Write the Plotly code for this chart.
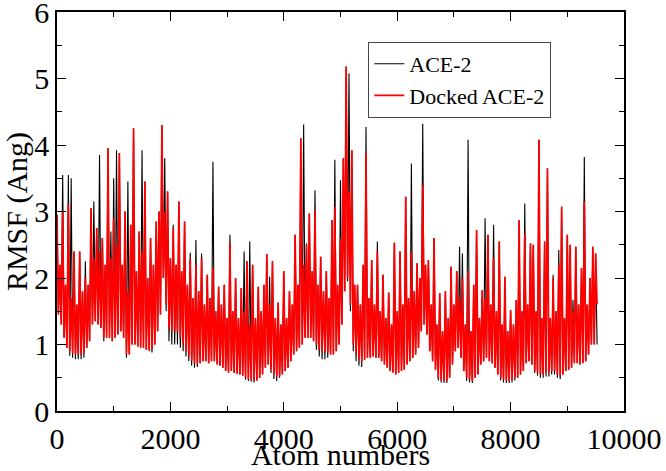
import plotly.graph_objects as go

# Atom numbers: local maxima read every 50 atoms (0 ... 9500),
# local minima read halfway between them (25 ... 9525)
atoms_top = list(range(0, 9550, 50))
atoms_low = list(range(25, 9575, 50))

# ACE-2 (black) — RMSF (Ang) local maxima
ace2_top = [
    2.95, 2.20, 3.55, 1.90, 3.55, 3.50, 2.40, 1.60, 2.40, 1.80,
    2.25, 1.90, 3.05, 3.15, 2.75, 3.85, 2.60, 2.20, 3.95, 2.70,
    3.50, 3.92, 3.88, 2.20, 3.00, 3.45, 2.80, 4.25, 2.10, 2.70,
    3.92, 3.45, 2.00, 2.60, 2.20, 2.85, 3.00, 4.30, 3.80, 3.30,
    2.30, 2.80, 2.20, 3.15, 2.10, 2.85, 1.90, 2.38, 1.70, 2.57,
    1.80, 2.37, 1.60, 2.05, 1.70, 3.75, 1.50, 1.87, 1.60, 1.90,
    1.40, 2.65, 1.50, 2.00, 1.40, 1.85, 2.40, 2.25, 2.55, 2.20,
    1.40, 1.87, 1.50, 1.90, 2.36, 2.02, 2.25, 1.40, 1.63, 1.30,
    2.10, 1.40, 1.80, 1.60, 2.65, 1.90, 4.10, 4.31, 2.52, 2.97,
    2.10, 3.32, 1.90, 2.32, 1.80, 2.10, 1.70, 2.87, 3.78, 1.90,
    3.47, 3.80, 5.18, 5.08, 3.92, 1.90, 1.90, 1.60, 2.20, 4.27,
    1.70, 2.27, 1.60, 2.55, 1.50, 2.05, 1.40, 1.78, 1.30, 2.53,
    1.50, 2.40, 1.60, 3.22, 1.70, 3.72, 1.80, 2.22, 2.00, 4.32,
    2.20, 2.27, 1.60, 2.60, 1.30, 1.77, 1.20, 1.80, 1.40, 2.17,
    1.60, 2.10, 2.47, 2.37, 1.30, 4.08, 1.20, 1.90, 2.72, 1.40,
    1.82, 2.90, 2.65, 1.60, 2.80, 1.50, 2.55, 1.30, 2.02, 1.20,
    1.52, 1.30, 1.67, 2.87, 1.50, 3.12, 1.60, 2.52, 2.50, 1.50,
    4.08, 1.40, 2.55, 3.65, 1.40, 2.05, 1.50, 2.42, 3.07, 1.40,
    2.65, 2.50, 1.67, 2.47, 1.60, 2.15, 3.82, 1.60, 2.00, 2.47,
    2.37,
]

# ACE-2 (black) — RMSF (Ang) local minima
ace2_low = [
    1.45, 1.30, 1.10, 0.95, 0.83, 0.80, 0.78, 0.78, 0.78, 0.80,
    0.95, 1.05, 1.30, 1.35, 1.30, 1.25, 1.05, 1.10, 1.10, 1.05,
    1.10, 1.15, 1.20, 1.10, 0.80, 0.85, 1.00, 1.00, 0.97, 0.95,
    0.95, 0.92, 0.90, 0.88, 1.00, 1.20, 1.45, 2.00, 1.50, 1.05,
    1.00, 1.00, 1.00, 0.95, 0.90, 0.82, 0.75, 0.68, 0.65, 0.66,
    0.72, 0.75, 0.75, 0.72, 0.75, 0.75, 0.70, 0.68, 0.65, 0.60,
    0.58, 0.60, 0.57, 0.56, 0.55, 0.53, 0.47, 0.45, 0.44, 0.43,
    0.46, 0.50, 0.55, 0.65, 0.70, 0.57, 0.48, 0.45, 0.50, 0.55,
    0.60, 0.65, 0.75, 0.85, 0.90, 0.95, 1.00, 1.10, 1.10, 1.10,
    1.05, 0.92, 0.82, 0.78, 0.78, 0.80, 0.85, 0.85, 0.90, 1.00,
    1.30, 1.80, 1.95, 1.50, 0.90, 0.75, 0.68, 0.66, 0.77, 0.80,
    0.80, 0.82, 0.80, 0.80, 0.75, 0.70, 0.65, 0.60, 0.58, 0.55,
    0.57, 0.60, 0.62, 0.70, 0.75, 0.80, 0.85, 0.95, 1.20, 1.30,
    1.15, 0.90, 0.75, 0.62, 0.46, 0.43, 0.42, 0.42, 0.50, 0.70,
    0.90, 0.95, 0.80, 0.60, 0.45, 0.43, 0.42, 0.50, 0.55, 0.70,
    0.75, 0.80, 0.75, 0.72, 0.65, 0.55, 0.46, 0.43, 0.42, 0.42,
    0.43, 0.46, 0.50, 0.55, 0.60, 0.72, 0.75, 0.70, 0.57, 0.53,
    0.50, 0.50, 0.52, 0.52, 0.55, 0.55, 0.50, 0.48, 0.55, 0.60,
    0.62, 0.65, 0.72, 0.72, 0.70, 0.72, 0.75, 0.85, 1.00, 1.00,
    1.00,
]

# Docked ACE-2 (red) — RMSF (Ang) local maxima
docked_top = [
    2.95, 2.20, 3.00, 1.90, 3.10, 1.70, 2.40, 1.60, 2.40, 1.80,
    2.00, 1.90, 3.05, 2.30, 2.75, 2.40, 2.60, 2.20, 3.95, 2.30,
    2.90, 2.50, 3.88, 2.20, 3.00, 1.80, 2.80, 4.25, 2.10, 2.70,
    2.40, 3.45, 2.00, 2.60, 2.20, 2.85, 3.00, 4.30, 3.00, 3.30,
    2.30, 2.75, 2.20, 3.15, 2.10, 2.85, 1.90, 2.30, 1.70, 2.20,
    1.80, 2.30, 1.60, 2.05, 1.70, 2.15, 1.50, 1.87, 1.60, 1.90,
    1.40, 2.53, 1.50, 2.00, 1.40, 1.85, 1.50, 2.25, 1.30, 2.20,
    1.40, 1.87, 1.50, 1.90, 2.36, 1.60, 2.25, 1.40, 1.63, 1.30,
    2.10, 1.40, 1.80, 1.60, 2.65, 1.90, 4.10, 2.20, 2.50, 2.97,
    2.10, 3.02, 1.90, 2.32, 1.80, 2.10, 1.70, 2.87, 3.07, 1.90,
    2.60, 3.80, 5.18, 3.30, 3.92, 1.90, 1.90, 1.60, 2.20, 3.88,
    1.70, 2.27, 1.60, 2.40, 1.50, 2.05, 1.40, 1.78, 1.30, 2.53,
    1.50, 2.40, 1.60, 3.22, 1.70, 2.40, 1.80, 2.22, 2.00, 3.40,
    2.20, 2.27, 1.60, 2.60, 1.30, 1.77, 1.20, 1.80, 1.40, 2.17,
    1.60, 2.10, 1.70, 2.00, 1.30, 2.10, 1.20, 1.90, 2.72, 1.40,
    1.82, 1.70, 2.65, 1.60, 2.30, 1.50, 2.55, 1.30, 2.02, 1.20,
    1.52, 1.30, 1.67, 2.87, 1.50, 2.67, 1.60, 2.52, 2.50, 1.50,
    4.08, 1.40, 2.55, 3.65, 1.40, 2.00, 1.50, 2.20, 3.07, 1.40,
    2.65, 2.50, 1.50, 2.47, 1.60, 2.15, 3.15, 1.60, 2.00, 2.47,
    2.37,
]

# Docked ACE-2 (red) — RMSF (Ang) local minima
docked_low = [
    1.45, 1.30, 1.10, 0.95, 0.90, 0.87, 0.85, 0.85, 0.85, 0.88,
    0.95, 1.05, 1.30, 1.35, 1.30, 1.25, 1.10, 1.10, 1.10, 1.05,
    1.10, 1.15, 1.20, 1.10, 0.85, 0.85, 1.00, 1.00, 0.97, 0.95,
    0.95, 0.92, 0.92, 0.92, 1.00, 1.20, 1.45, 2.00, 1.60, 1.25,
    1.20, 1.20, 1.20, 1.10, 1.00, 0.90, 0.82, 0.76, 0.72, 0.70,
    0.72, 0.75, 0.75, 0.72, 0.75, 0.75, 0.70, 0.68, 0.65, 0.60,
    0.58, 0.60, 0.57, 0.56, 0.55, 0.53, 0.50, 0.48, 0.47, 0.45,
    0.46, 0.50, 0.55, 0.65, 0.70, 0.62, 0.55, 0.52, 0.52, 0.55,
    0.60, 0.65, 0.75, 0.85, 0.90, 0.95, 1.00, 1.10, 1.10, 1.10,
    1.05, 1.00, 0.92, 0.90, 0.90, 0.88, 0.85, 0.85, 0.90, 1.00,
    1.30, 1.80, 2.00, 1.60, 1.00, 0.85, 0.78, 0.75, 0.77, 0.80,
    0.80, 0.82, 0.80, 0.80, 0.75, 0.70, 0.65, 0.60, 0.58, 0.55,
    0.57, 0.60, 0.62, 0.70, 0.75, 0.80, 0.85, 0.95, 1.20, 1.30,
    1.15, 0.90, 0.75, 0.62, 0.50, 0.47, 0.45, 0.45, 0.50, 0.70,
    0.90, 0.95, 0.80, 0.60, 0.50, 0.47, 0.45, 0.50, 0.55, 0.70,
    0.75, 0.80, 0.75, 0.72, 0.65, 0.55, 0.50, 0.47, 0.45, 0.45,
    0.47, 0.50, 0.50, 0.55, 0.60, 0.72, 0.75, 0.70, 0.60, 0.57,
    0.55, 0.55, 0.57, 0.57, 0.60, 0.60, 0.55, 0.52, 0.55, 0.60,
    0.62, 0.65, 0.72, 0.72, 0.70, 0.72, 0.75, 0.85, 1.00, 1.00,
    1.60,
]

x_ticks = [0, 2000, 4000, 6000, 8000, 10000]
y_ticks = [0, 1, 2, 3, 4, 5, 6]

FONT = "Liberation Serif, Times New Roman, serif"


def interleave(xa, ya, xb, yb):
    xs, ys = [], []
    for x1, y1, x2, y2 in zip(xa, ya, xb, yb):
        xs += [x1, x2]
        ys += [y1, y2]
    return xs, ys


x_b, y_b = interleave(atoms_top, ace2_top, atoms_low, ace2_low)
x_r, y_r = interleave(atoms_top, docked_top, atoms_low, docked_low)

fig = go.Figure()
fig.add_trace(go.Scatter(x=x_b, y=y_b, mode="lines", name="ACE-2",
                         line=dict(color="black", width=1.1)))
fig.add_trace(go.Scatter(x=x_r, y=y_r, mode="lines", name="Docked ACE-2",
                         line=dict(color="#ff0000", width=1.7)))

axis_common = dict(
    showgrid=False, zeroline=False, showline=True, linecolor="black",
    linewidth=1.5, mirror="ticks", ticks="inside", ticklen=9, tickwidth=1.2,
    tickcolor="black", tickfont=dict(family=FONT, size=30, color="black"),
    automargin=False, ticklabeloverflow="allow",
)

fig.update_xaxes(
    range=[0, 10000], tickvals=x_ticks, ticktext=[str(v) for v in x_ticks],
    minor=dict(dtick=1000, ticks="inside", ticklen=5, tickcolor="black", tickwidth=1),
    title=dict(text="Atom numbers", font=dict(family=FONT, size=30, color="black"), standoff=0),
    **axis_common,
)
fig.update_yaxes(
    range=[0, 6], tickvals=y_ticks, ticktext=[str(v) for v in y_ticks],
    minor=dict(dtick=0.5, ticks="inside", ticklen=5, tickcolor="black", tickwidth=1),
    title=dict(text="RMSF (Ang)", font=dict(family=FONT, size=30, color="black"), standoff=4),
    **axis_common,
)

fig.update_layout(
    width=666, height=471,
    margin=dict(l=57, r=42, t=12, b=60),
    paper_bgcolor="white", plot_bgcolor="white",
    showlegend=True,
    legend=dict(
        x=0.549, y=0.925, xanchor="left", yanchor="top",
        bgcolor="white", bordercolor="#444", borderwidth=1,
        font=dict(family=FONT, size=22, color="black"),
        tracegroupgap=0, itemwidth=30,
    ),
)

fig.write_html(
    "out.html",
    config={"displayModeBar": False},
    post_script="document.body.style.margin='0';document.body.style.overflow='hidden';",
)
